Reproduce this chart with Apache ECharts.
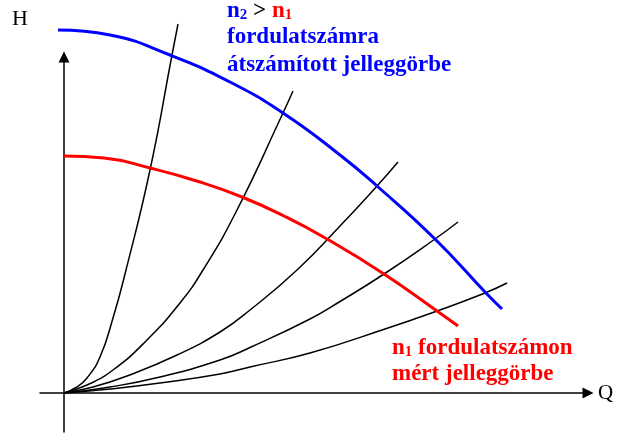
<!DOCTYPE html>
<html>
<head>
<meta charset="utf-8">
<script src="https://cdn.jsdelivr.net/npm/echarts@6/dist/echarts.min.js"></script>
<style>
  html, body { margin: 0; padding: 0; background: #fff; }
  #chart { width: 618px; height: 433px; }
</style>
</head>
<body>
<div id="chart"></div>
<script>
// pump characteristic (H) vs flow (Q)
const blueCurve = [
  [-0.6, 36.3], [4.6, 35.8], [10.6, 33.8], [16.6, 31.1], [21.9, 28.0],
  [27.6, 23.8], [31.3, 20.7], [37.1, 15.4], [42.1, 10.1], [43.8, 8.4]
];
const redCurve = [
  [0, 23.7], [4.0, 23.5], [8.6, 22.5], [13.6, 21.1], [17.8, 19.6], [22.0, 17.7],
  [26.3, 15.4], [32.0, 11.9], [37.3, 8.2], [39.4, 6.7]
];
// system parabolas through the origin
const parabola1 = [[0, 0], [1.3, 0.6], [2.3, 1.5], [3.6, 3.6], [4.9, 7.5], [6.1, 11.9], [8.6, 22.3], [10.8, 33.8], [11.4, 36.9]];
const parabola2 = [[0, 0], [2.3, 0.8], [4.9, 2.3], [8.3, 5.3], [11.6, 9.0], [13.9, 12.3], [17.3, 18.3], [21.9, 28.0], [22.9, 30.2]];
const parabola3 = [[0, 0], [2.9, 0.6], [6.3, 1.7], [11.3, 3.8], [15.6, 6.1], [18.6, 8.3], [23.3, 12.3], [27.6, 16.7], [31.3, 20.7], [33.4, 23.1]];
const parabola4 = [[0, 0], [4.6, 0.6], [9.6, 1.6], [15.6, 3.3], [18.6, 4.55], [24.6, 7.4], [27.6, 9.15], [32.0, 11.9], [37.1, 15.4], [39.4, 17.1]];
const parabola5 = [[0, 0], [4.6, 0.4], [9.6, 1.0], [15.6, 1.9], [18.6, 2.6], [24.6, 4.0], [32.1, 6.4], [37.3, 8.2], [42.1, 10.0], [44.3, 11.0]];

const chart = echarts.init(document.getElementById('chart'), null, { renderer: 'canvas' });

const serif = 'Liberation Serif';

function curve(data, color, width) {
  return {
    type: 'line',
    data: data,
    smooth: 0.5,
    symbol: 'none',
    clip: false,
    silent: true,
    lineStyle: { color: color, width: width }
  };
}

const axisCommon = {
  type: 'value',
  axisLine: {
    show: true,
    onZero: true,
    symbol: ['none', 'triangle'],
    symbolSize: [11, 11],
    lineStyle: { color: '#000', width: 1.5 }
  },
  axisTick: { show: false },
  axisLabel: { show: false },
  splitLine: { show: false }
};

const big = { fontFamily: serif, fontSize: 23, fontWeight: 'bold', lineHeight: 26, verticalAlign: 'bottom' };
const small = { fontFamily: serif, fontSize: 15, fontWeight: 'bold', lineHeight: 24, verticalAlign: 'bottom' };

chart.setOption({
  animation: false,
  grid: { left: 40, right: 30, top: 57, bottom: 1 },
  xAxis: Object.assign({}, axisCommon, { min: -2.4, max: 52.4 }),
  yAxis: Object.assign({}, axisCommon, { min: -3.9, max: 33.6 }),
  series: [
    curve(parabola1, '#000', 1.5),
    curve(parabola2, '#000', 1.5),
    curve(parabola3, '#000', 1.5),
    curve(parabola4, '#000', 1.5),
    curve(parabola5, '#000', 1.5),
    curve(redCurve, '#ff0000', 3),
    curve(blueCurve, '#0000ff', 3)
  ],
  graphic: [
    { type: 'text', x: 12, y: 19, style: { text: 'H', fontFamily: serif, fontSize: 22, fill: '#000', verticalAlign: 'middle' } },
    { type: 'text', x: 598, y: 393, style: { text: 'Q', fontFamily: serif, fontSize: 21, fill: '#000', verticalAlign: 'middle' } },
    {
      type: 'text', x: 227, y: 10,
      style: {
        text: '{b|n}{bs|2}{k| > }{r|n}{rs|1}',
        verticalAlign: 'middle',
        rich: {
          b: Object.assign({ fill: '#0000ff' }, big),
          bs: Object.assign({ fill: '#0000ff' }, small),
          k: Object.assign({ fill: '#000' }, big),
          r: Object.assign({ fill: '#ff0000' }, big),
          rs: Object.assign({ fill: '#ff0000' }, small)
        }
      }
    },
    { type: 'text', x: 227, y: 37, style: { text: 'fordulatszámra', fontFamily: serif, fontSize: 23, fontWeight: 'bold', fill: '#0000ff', verticalAlign: 'middle' } },
    { type: 'text', x: 227, y: 65, style: { text: 'átszámított jelleggörbe', fontFamily: serif, fontSize: 23, fontWeight: 'bold', fill: '#0000ff', verticalAlign: 'middle' } },
    {
      type: 'text', x: 392, y: 347,
      style: {
        text: '{r|n}{rs|1}{r| fordulatszámon}',
        verticalAlign: 'middle',
        rich: {
          r: Object.assign({ fill: '#ff0000' }, big),
          rs: Object.assign({ fill: '#ff0000' }, small)
        }
      }
    },
    { type: 'text', x: 392, y: 374, style: { text: 'mért jelleggörbe', fontFamily: serif, fontSize: 23, fontWeight: 'bold', fill: '#ff0000', verticalAlign: 'middle' } }
  ]
});
</script>
</body>
</html>
